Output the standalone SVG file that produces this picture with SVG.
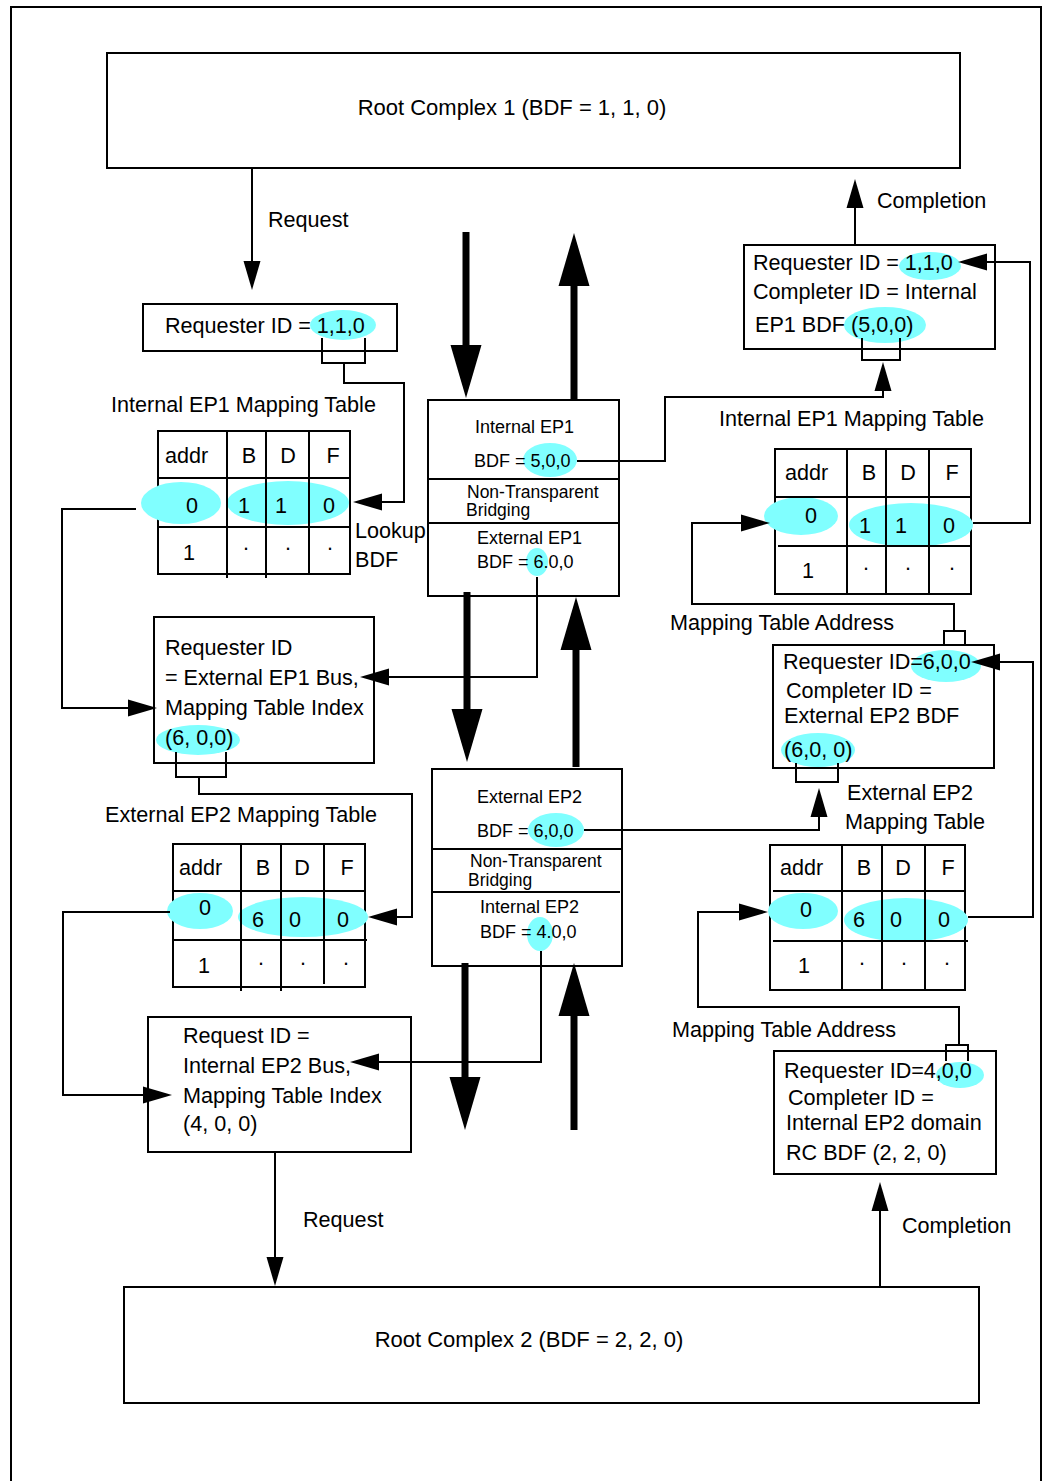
<svg xmlns="http://www.w3.org/2000/svg" width="1047" height="1481" viewBox="0 0 1047 1481">
<style>
.box{fill:#fff;stroke:#000;stroke-width:2}
.ln{fill:none;stroke:#000;stroke-width:2}
.thick{fill:none;stroke:#000;stroke-width:7}
.t{font-family:"Liberation Sans",Arial,sans-serif;font-size:21.6px;fill:#000}
.rc{font-size:22px}
.s{font-size:18px}
.ns{font-size:17.5px}
.c{text-anchor:middle}
.hl{fill:#80ffff}
</style>
<defs>
<marker id="ah" markerUnits="userSpaceOnUse" markerWidth="30" markerHeight="17" refX="0" refY="8.5" orient="auto" overflow="visible"><path d="M0,0 L29,8.5 L0,17 z" fill="#000"/></marker>
<marker id="ahT" markerUnits="userSpaceOnUse" markerWidth="54" markerHeight="31" refX="0" refY="15.5" orient="auto" overflow="visible"><path d="M0,0 L53,15.5 L0,31 z" fill="#000"/></marker>
</defs>
<rect width="1047" height="1481" fill="#fff"/>
<path class="ln" d="M11,1481 V7 H1041 V1481"/>

<g id="rc1">
<rect class="box" x="107" y="53" width="853" height="115"/>
<text class="t rc c" x="512" y="115">Root Complex 1 (BDF = 1, 1, 0)</text>
</g>

<g id="rc2">
<rect class="box" x="124" y="1287" width="855" height="116"/>
<text class="t rc c" x="529" y="1347">Root Complex 2 (BDF = 2, 2, 0)</text>
</g>

<g id="req-box-1">
<rect class="box" x="143" y="304" width="254" height="47"/>
<ellipse class="hl" cx="343" cy="325" rx="33" ry="15"/>
<text class="t" x="165" y="333">Requester ID = 1,1,0</text>
</g>

<g id="map-ep1-left">
<text class="t" x="111" y="412">Internal EP1 Mapping Table</text>
<rect class="box" x="158" y="431" width="192" height="143"/>
<ellipse class="hl" cx="181" cy="503" rx="40" ry="21"/>
<ellipse class="hl" cx="288" cy="503" rx="61" ry="22"/>
<path class="ln" d="M227,431 V578 M266,431 V578 M309,431 V574 M158,478 H350 M158,527 H350"/>
<text class="t" x="165" y="463">addr</text>
<text class="t c" x="249" y="463">B</text><text class="t c" x="288" y="463">D</text><text class="t c" x="333" y="463">F</text>
<text class="t c" x="192" y="513">0</text><text class="t c" x="244" y="513">1</text><text class="t c" x="281" y="513">1</text><text class="t c" x="329" y="513">0</text>
<text class="t c" x="189" y="560">1</text><text class="t c" x="246" y="550">.</text><text class="t c" x="288" y="550">.</text><text class="t c" x="330" y="550">.</text>
</g>

<g id="req-box-2">
<rect class="box" x="154" y="617" width="220" height="146"/>
<ellipse class="hl" cx="198" cy="740" rx="42" ry="15"/>
<text class="t" x="165" y="655">Requester ID</text>
<text class="t" x="165" y="685">= External EP1 Bus,</text>
<text class="t" x="165" y="715">Mapping Table Index</text>
<text class="t" x="165" y="745">(6, 0,0)</text>
</g>

<g id="map-ep2-left">
<text class="t" x="105" y="822">External EP2 Mapping Table</text>
<rect class="box" x="173" y="844" width="192" height="143"/>
<ellipse class="hl" cx="200" cy="911" rx="33" ry="18"/>
<ellipse class="hl" cx="303" cy="917" rx="65" ry="20"/>
<path class="ln" d="M241,844 V991 M281,844 V991 M324,844 V984 M173,891 H365 M173,940 H367"/>
<text class="t" x="179" y="875">addr</text>
<text class="t c" x="263" y="875">B</text><text class="t c" x="302" y="875">D</text><text class="t c" x="347" y="875">F</text>
<text class="t c" x="205" y="915">0</text><text class="t c" x="258" y="927">6</text><text class="t c" x="295" y="927">0</text><text class="t c" x="343" y="927">0</text>
<text class="t c" x="204" y="973">1</text><text class="t c" x="261" y="965">.</text><text class="t c" x="303" y="965">.</text><text class="t c" x="346" y="965">.</text>
</g>

<g id="req-box-3">
<rect class="box" x="148" y="1017" width="263" height="135"/>
<text class="t" x="183" y="1043">Request ID =</text>
<text class="t" x="183" y="1073">Internal EP2 Bus,</text>
<text class="t" x="183" y="1103">Mapping Table Index</text>
<text class="t" x="183" y="1131">(4, 0, 0)</text>
</g>

<g id="ntb-1">
<rect class="box" x="428" y="400" width="191" height="196"/>
<path class="ln" d="M428,479 H619 M428,523 H619"/>
<ellipse class="hl" cx="550" cy="460" rx="27" ry="17"/>
<ellipse class="hl" cx="537" cy="562" rx="11" ry="14"/>
<text class="t s" x="475" y="433">Internal EP1</text>
<text class="t s" x="474" y="467">BDF = 5,0,0</text>
<text class="t ns" x="467" y="498">Non-Transparent</text>
<text class="t ns" x="466" y="516">Bridging</text>
<text class="t s" x="477" y="544">External EP1</text>
<text class="t s" x="477" y="568">BDF = 6.0,0</text>
</g>

<g id="ntb-2">
<rect class="box" x="432" y="769" width="190" height="197"/>
<path class="ln" d="M432,849 H622 M432,892 H620"/>
<ellipse class="hl" cx="556" cy="830" rx="28" ry="17"/>
<ellipse class="hl" cx="540" cy="934" rx="13" ry="17"/>
<text class="t s" x="477" y="803">External EP2</text>
<text class="t s" x="477" y="837">BDF = 6,0,0</text>
<text class="t ns" x="470" y="867">Non-Transparent</text>
<text class="t ns" x="468" y="886">Bridging</text>
<text class="t s" x="480" y="913">Internal EP2</text>
<text class="t s" x="480" y="938">BDF = 4.0,0</text>
</g>

<g id="cpl-box-1">
<rect class="box" x="744" y="245" width="251" height="104"/>
<ellipse class="hl" cx="930" cy="266" rx="31" ry="14"/>
<ellipse class="hl" cx="885" cy="325" rx="41" ry="18"/>
<text class="t" x="753" y="270">Requester ID = 1,1,0</text>
<text class="t" x="753" y="299">Completer ID = Internal</text>
<text class="t" x="755" y="332">EP1 BDF (5,0,0)</text>
</g>

<g id="map-ep1-right">
<text class="t" x="719" y="426">Internal EP1 Mapping Table</text>
<rect class="box" x="775" y="449" width="196" height="145"/>
<ellipse class="hl" cx="801" cy="516" rx="37" ry="19"/>
<ellipse class="hl" cx="911" cy="525" rx="62" ry="22"/>
<path class="ln" d="M847,449 V594 M886,449 V594 M929,449 V594 M775,497 H971 M778,546 H971"/>
<text class="t" x="785" y="480">addr</text>
<text class="t c" x="869" y="480">B</text><text class="t c" x="908" y="480">D</text><text class="t c" x="952" y="480">F</text>
<text class="t c" x="811" y="523">0</text><text class="t c" x="865" y="533">1</text><text class="t c" x="901" y="533">1</text><text class="t c" x="949" y="533">0</text>
<text class="t c" x="808" y="578">1</text><text class="t c" x="866" y="570">.</text><text class="t c" x="908" y="570">.</text><text class="t c" x="952" y="570">.</text>
</g>

<g id="cpl-box-2">
<rect class="box" x="773" y="645" width="221" height="123"/>
<ellipse class="hl" cx="946" cy="666" rx="35" ry="16"/>
<ellipse class="hl" cx="818" cy="750" rx="37" ry="17"/>
<text class="t" x="783" y="669">Requester ID=6,0,0</text>
<text class="t" x="786" y="698">Completer ID =</text>
<text class="t" x="784" y="723">External EP2 BDF</text>
<text class="t" x="784" y="757">(6,0, 0)</text>
</g>

<g id="map-ep2-right">
<text class="t" x="847" y="800">External EP2</text>
<text class="t" x="845" y="829">Mapping Table</text>
<rect class="box" x="770" y="845" width="195" height="145"/>
<ellipse class="hl" cx="803" cy="911" rx="35" ry="18"/>
<ellipse class="hl" cx="906" cy="920" rx="62" ry="22"/>
<path class="ln" d="M842,845 V990 M882,845 V990 M925,845 V990 M773,891 H965 M773,941 H968"/>
<text class="t" x="780" y="875">addr</text>
<text class="t c" x="864" y="875">B</text><text class="t c" x="903" y="875">D</text><text class="t c" x="948" y="875">F</text>
<text class="t c" x="806" y="917">0</text><text class="t c" x="859" y="927">6</text><text class="t c" x="896" y="927">0</text><text class="t c" x="944" y="927">0</text>
<text class="t c" x="804" y="973">1</text><text class="t c" x="862" y="965">.</text><text class="t c" x="904" y="965">.</text><text class="t c" x="947" y="965">.</text>
</g>

<g id="cpl-box-3">
<rect class="box" x="774" y="1051" width="222" height="123"/>
<ellipse class="hl" cx="960" cy="1075" rx="24" ry="13"/>
<text class="t" x="784" y="1078">Requester ID=4,0,0</text>
<text class="t" x="788" y="1105">Completer ID =</text>
<text class="t" x="786" y="1130">Internal EP2 domain</text>
<text class="t" x="786" y="1160">RC BDF (2, 2, 0)</text>
</g>

<g id="labels">
<text class="t" x="268" y="227">Request</text>
<text class="t" x="877" y="208">Completion</text>
<text class="t" x="355" y="538">Lookup</text>
<text class="t" x="355" y="567">BDF</text>
<text class="t" x="670" y="630">Mapping Table Address</text>
<text class="t" x="672" y="1037">Mapping Table Address</text>
<text class="t" x="303" y="1227">Request</text>
<text class="t" x="902" y="1233">Completion</text>
</g>

<g id="connectors">
<path class="ln" d="M322,338 V363 H365 V338"/>
<path class="ln" d="M176,752 V777 H226 V752"/>
<path class="ln" d="M862,338 V360 H900 V338"/>
<path class="ln" d="M944,645 V631 H965 V645"/>
<path class="ln" d="M796,763 V782 H838 V763"/>
<path class="ln" d="M946,1061 V1045 H968 V1061"/>

<path class="ln" marker-end="url(#ah)" d="M252,168 V261"/>
<path class="ln" marker-end="url(#ah)" d="M344,363 V383 H404 V502 H382"/>
<path class="ln" marker-end="url(#ah)" d="M136,509 H62 V708 H128"/>
<path class="ln" marker-end="url(#ah)" d="M537,577 V677 H389"/>
<path class="ln" marker-end="url(#ah)" d="M199,777 V794 H412 V917 H397"/>
<path class="ln" marker-end="url(#ah)" d="M170,912 H63 V1095 H143"/>
<path class="ln" marker-end="url(#ah)" d="M541,951 V1062 H379"/>
<path class="ln" marker-end="url(#ah)" d="M275,1152 V1257"/>
<path class="ln" marker-end="url(#ah)" d="M880,1287 V1211"/>
<path class="ln" marker-end="url(#ah)" d="M959,1045 V1007 H698 V912 H739"/>
<path class="ln" marker-end="url(#ah)" d="M968,917 H1033 V662 H1000"/>
<path class="ln" marker-end="url(#ah)" d="M584,830 H819 V817"/>
<path class="ln" marker-end="url(#ah)" d="M954,631 V604 H692 V523 H741"/>
<path class="ln" marker-end="url(#ah)" d="M973,523 H1030 V262 H987"/>
<path class="ln" marker-end="url(#ah)" d="M577,461 H665 V397 H883 V391"/>
<path class="ln" marker-end="url(#ah)" d="M855,244 V208"/>

<path class="thick" marker-end="url(#ahT)" d="M466,232 V345"/>
<path class="thick" marker-end="url(#ahT)" d="M574,400 V286"/>
<path class="thick" marker-end="url(#ahT)" d="M467,592 V709"/>
<path class="thick" marker-end="url(#ahT)" d="M576,767 V650"/>
<path class="thick" marker-end="url(#ahT)" d="M465,963 V1077"/>
<path class="thick" marker-end="url(#ahT)" d="M574,1130 V1016"/>
</g>
</svg>
